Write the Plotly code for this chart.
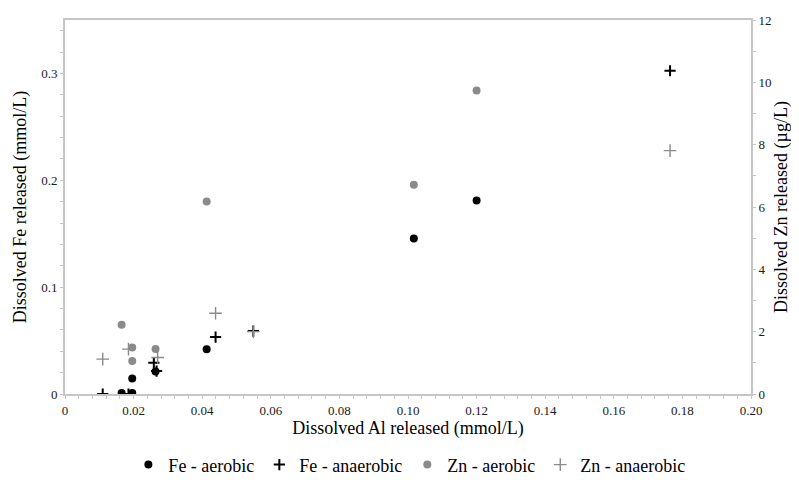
import plotly.graph_objects as go

# Data
fe_aer_x = [0.0165, 0.0196, 0.0196, 0.0264, 0.0413, 0.1017, 0.1200]
fe_aer_y = [0.001, 0.001, 0.0144, 0.021, 0.0418, 0.1455, 0.181]

fe_ana_x = [0.0110, 0.0185, 0.0259, 0.0267, 0.0439, 0.0549, 0.1764]
fe_ana_y = [0.0, 0.0, 0.0293, 0.0215, 0.0533, 0.0589, 0.3025]

zn_aer_x = [0.0165, 0.0196, 0.0196, 0.0264, 0.0413, 0.1017, 0.1200]
zn_aer_y = [2.22, 1.49, 1.06, 1.44, 6.18, 6.71, 9.74]

zn_ana_x = [0.0110, 0.0185, 0.0270, 0.0439, 0.0549, 0.1764]
zn_ana_y = [1.12, 1.44, 1.17, 2.59, 2.00, 7.81]

x_tickvals = [0, 0.02, 0.04, 0.06, 0.08, 0.10, 0.12, 0.14, 0.16, 0.18, 0.20]
x_ticktext = ["0", "0.02", "0.04", "0.06", "0.08", "0.10", "0.12", "0.14", "0.16", "0.18", "0.20"]
y_tickvals = [0, 0.1, 0.2, 0.3]
y_ticktext = ["0", "0.1", "0.2", "0.3"]
y2_tickvals = [0, 2, 4, 6, 8, 10, 12]

FONT = "Liberation Serif"
AXC = "#c6c6c6"
TXT = "#1a1a1a"

fig = go.Figure()
fig.add_trace(go.Scatter(x=fe_aer_x, y=fe_aer_y, mode="markers", name="Fe - aerobic",
                         marker=dict(symbol="circle", size=8, color="#000000")))
fig.add_trace(go.Scatter(x=fe_ana_x, y=fe_ana_y, mode="markers", name="Fe - anaerobic",
                         marker=dict(symbol="cross-thin", size=8, color="#000000",
                                     line=dict(color="#000000", width=2))))
fig.add_trace(go.Scatter(x=zn_aer_x, y=zn_aer_y, mode="markers", name="Zn - aerobic",
                         yaxis="y2",
                         marker=dict(symbol="circle", size=8, color="#8a8a8a")))
fig.add_trace(go.Scatter(x=zn_ana_x, y=zn_ana_y, mode="markers", name="Zn - anaerobic",
                         yaxis="y2",
                         marker=dict(symbol="cross-thin", size=9, color="#8a8a8a",
                                     line=dict(color="#8a8a8a", width=1.4))))

fig.update_layout(
    width=791, height=472,
    margin=dict(l=57, r=48, t=12, b=86),
    paper_bgcolor="white", plot_bgcolor="white",
    font=dict(family=FONT, size=13, color=TXT),
    xaxis=dict(range=[0, 0.2], tickvals=x_tickvals, ticktext=x_ticktext, automargin=False,
               showgrid=False, zeroline=False, showline=True, linecolor=AXC, linewidth=2,
               mirror=True, ticks="outside", ticklen=3, tickcolor=AXC, tickwidth=1,
               minor=dict(dtick=0.004, ticks="outside", ticklen=3, tickcolor=AXC),
               tickfont=dict(family=FONT, size=13, color=TXT),
               title=dict(text="Dissolved Al released (mmol/L)", standoff=1,
                          font=dict(family=FONT, size=18, color="#000"))),
    yaxis=dict(range=[0, 0.35], tickvals=y_tickvals, ticktext=y_ticktext, automargin=False,
               showgrid=False, zeroline=False, showline=True, linecolor=AXC, linewidth=2,
               ticks="outside", ticklen=3, tickcolor=AXC, tickwidth=1,
               minor=dict(dtick=0.02, ticks="outside", ticklen=3, tickcolor=AXC),
               tickfont=dict(family=FONT, size=13, color=TXT),
               title=dict(text="Dissolved Fe released (mmol/L)", standoff=10,
                          font=dict(family=FONT, size=18, color="#000"))),
    yaxis2=dict(range=[0, 12], tickvals=y2_tickvals, overlaying="y", side="right",
                automargin=False,
                showgrid=False, zeroline=False, showline=True, linecolor=AXC, linewidth=2,
                ticks="outside", ticklen=3, tickcolor=AXC, tickwidth=1,
                minor=dict(dtick=1, ticks="outside", ticklen=3, tickcolor=AXC),
                tickfont=dict(family=FONT, size=13, color=TXT),
                title=dict(text="Dissolved Zn released (µg/L)", standoff=4,
                           font=dict(family=FONT, size=18, color="#000"))),
    legend=dict(orientation="h", x=0.502, xanchor="center",
                yref="container", y=0.032, yanchor="middle",
                font=dict(family=FONT, size=18, color="#000"), itemwidth=30,
                traceorder="normal"),
    showlegend=True,
)

fig.write_html("out.html")
